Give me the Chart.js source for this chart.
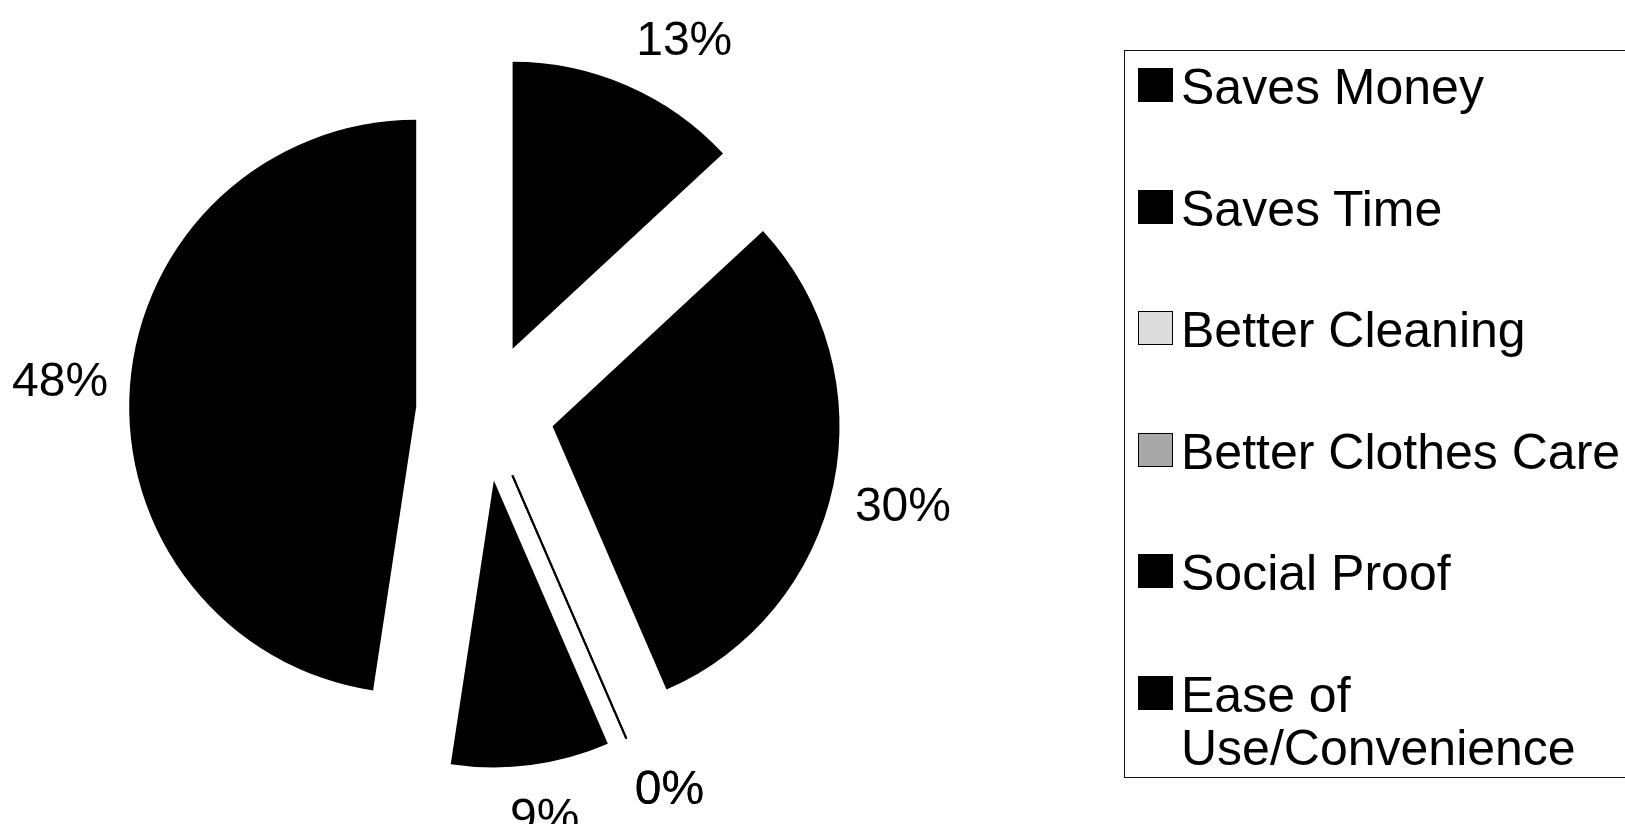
<!DOCTYPE html>
<html>
<head>
<meta charset="utf-8">
<script src="https://cdn.jsdelivr.net/npm/chart.js@4.4.1/dist/chart.umd.min.js"></script>
<style>
  html, body { margin: 0; padding: 0; background: #fff; width: 1625px; height: 840px; overflow: hidden;
    font-family: "Liberation Sans", Arial, Helvetica, sans-serif; }
  #wrap { position: absolute; left: 0; top: 0; width: 970px; height: 824px; }
  #legend { position: absolute; left: 1124px; top: 50px; width: 640px; height: 728px;
    border: 1.5px solid #111; box-sizing: border-box; }
  .item { position: absolute; left: 0; width: 620px; height: 110px; }
  .sw { position: absolute; left: 13px; top: 7px; width: 35px; height: 34px; box-sizing: border-box; border: 1px solid #000; }
  .tx { position: absolute; left: 56px; top: 0; width: 450px; font-size: 50px; line-height: 53px; color: #000; }
</style>
</head>
<body>
<div id="wrap"><canvas id="c" width="970" height="824"></canvas></div>
<div id="legend"></div>
<script>
// ---- data ----
const categories = ['Saves Money', 'Saves Time', 'Better Cleaning', 'Better Clothes Care', 'Social Proof', 'Ease of Use/Convenience'];
const shares = [13.1, 30.4, 0, 0, 8.9, 47.6];
const sliceColors = ['#000000', '#000000', '#dcdcdc', '#a8a8a8', '#000000', '#000000'];

// ---- style constants ----
const PIE_RADIUS = 287;
const EXPLODE = 69;
const LABEL_DIST = 378;
const LABEL_BOX_H = 55;
const LABEL_FONT = '48px "Liberation Sans", Arial, sans-serif';

const explodePlugin = {
  id: 'explode',
  beforeDatasetDraw(chart, args) {
    const ca = chart.chartArea;
    const cx = (ca.left + ca.right) / 2, cy = (ca.top + ca.bottom) / 2;
    args.meta.data.forEach(arc => {
      const mid = (arc.startAngle + arc.endAngle) / 2;
      arc.x = cx + Math.cos(mid) * EXPLODE;
      arc.y = cy + Math.sin(mid) * EXPLODE;
    });
  },
  afterDatasetDraw(chart, args) {
    const ctx = chart.ctx;
    const data = chart.data.datasets[args.index].data;
    ctx.save();
    ctx.strokeStyle = '#000';
    ctx.lineWidth = 2;
    args.meta.data.forEach((arc, i) => {
      if (data[i] === 0) {
        const a = arc.startAngle;
        ctx.beginPath();
        ctx.moveTo(arc.x, arc.y);
        ctx.lineTo(arc.x + Math.cos(a) * arc.outerRadius, arc.y + Math.sin(a) * arc.outerRadius);
        ctx.stroke();
      }
    });
    ctx.restore();
  }
};

const clamp = v => Math.max(-1, Math.min(1, v));

const labelPlugin = {
  id: 'pctLabels',
  afterDatasetsDraw(chart) {
    const ctx = chart.ctx;
    const ca = chart.chartArea;
    const cx = (ca.left + ca.right) / 2, cy = (ca.top + ca.bottom) / 2;
    const data = chart.data.datasets[0].data;
    const total = data.reduce((s, v) => s + v, 0);
    const meta = chart.getDatasetMeta(0);
    ctx.save();
    ctx.font = LABEL_FONT;
    ctx.fillStyle = '#000';
    ctx.textAlign = 'center';
    ctx.textBaseline = 'alphabetic';
    const capH = 34.5;
    meta.data.forEach((arc, i) => {
      const txt = Math.round(data[i] / total * 100) + '%';
      const mid = (arc.startAngle + arc.endAngle) / 2;
      const ux = Math.cos(mid), uy = Math.sin(mid);
      const w = ctx.measureText(txt).width;
      const ax = cx + ux * LABEL_DIST, ay = cy + uy * LABEL_DIST;
      const x = ax + clamp(ux * 2.5) * w / 2;
      const y = ay + clamp(uy * 2.5) * LABEL_BOX_H / 2;
      ctx.fillText(txt, x, y + capH / 2);
    });
    ctx.restore();
  }
};

new Chart(document.getElementById('c'), {
  type: 'pie',
  data: {
    labels: categories,
    datasets: [{
      data: shares,
      backgroundColor: sliceColors,
      borderWidth: 0
    }]
  },
  options: {
    responsive: false,
    animation: false,
    events: [],
    radius: PIE_RADIUS,
    layout: { padding: 0 },
    plugins: { legend: { display: false }, tooltip: { enabled: false } }
  },
  plugins: [explodePlugin, labelPlugin]
});

// ---- HTML legend built from the same arrays ----
const legend = document.getElementById('legend');
categories.forEach((name, i) => {
  const item = document.createElement('div');
  item.className = 'item';
  item.style.top = (10 + i * 121.6) + 'px';
  const sw = document.createElement('div');
  sw.className = 'sw';
  sw.style.background = sliceColors[i];
  const tx = document.createElement('div');
  tx.className = 'tx';
  tx.textContent = name.replace('/', '/\u2060');
  item.appendChild(sw);
  item.appendChild(tx);
  legend.appendChild(item);
});
</script>
</body>
</html>
